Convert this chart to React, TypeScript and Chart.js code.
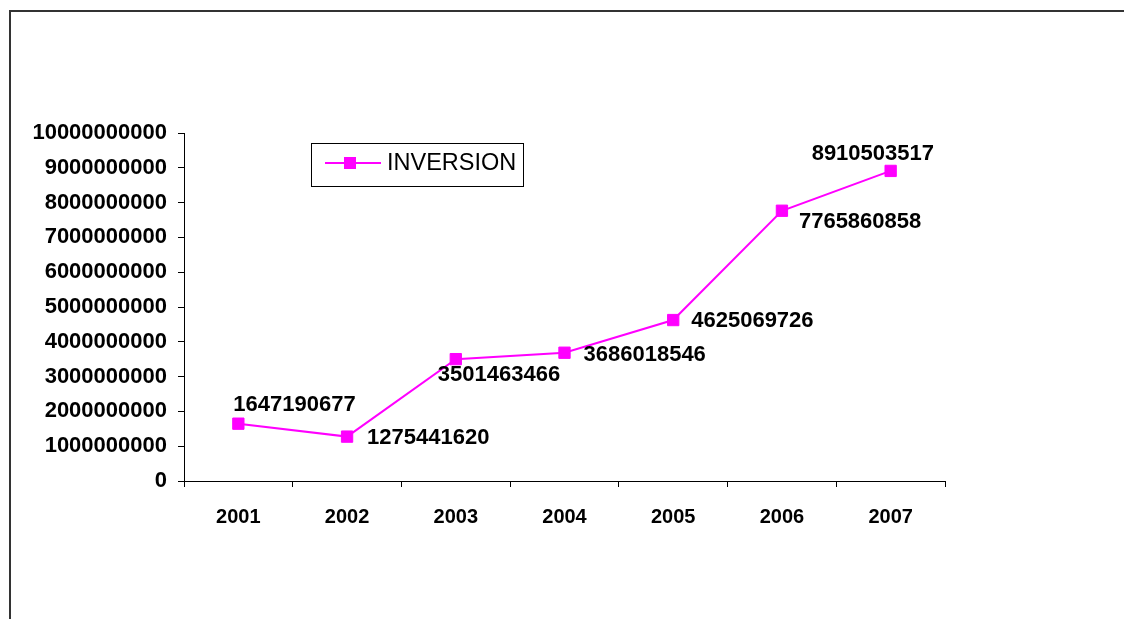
import React, { useEffect, useRef } from "react";
import { Chart, registerables } from "chart.js";

Chart.register(...registerables);

const years = ["2001", "2002", "2003", "2004", "2005", "2006", "2007"];
const inversion = [1647190677, 1275441620, 3501463466, 3686018546, 4625069726, 7765860858, 8910503517];
const seriesName = "INVERSION";
const yMax = 10000000000;
const yStep = 1000000000;
// label placement relative to each point (text left edge dx, text middle dy)
const labelDx = [-5, 20, -18, 19, 18, 17, -79];
const labelDy = [-19, 1, 16, 2, 1, 11, -17];

const MAGENTA = "#FF00FF";
const FONT = "'Liberation Sans', Arial, sans-serif";

const labelsPlugin = {
  id: "pointLabels",
  afterDatasetsDraw(chart: any) {
    const ctx = chart.ctx;
    const meta = chart.getDatasetMeta(0);
    ctx.save();
    ctx.font = `bold 22px ${FONT}`;
    ctx.fillStyle = "#000";
    ctx.textAlign = "left";
    ctx.textBaseline = "middle";
    meta.data.forEach((pt: any, i: number) => {
      ctx.fillText(String(inversion[i]), pt.x + labelDx[i], pt.y + labelDy[i]);
    });
    ctx.restore();
  },
};

const legendPlugin = {
  id: "boxLegend",
  afterDraw(chart: any) {
    const ctx = chart.ctx;
    const x0 = 311, y0 = 143, w = 212, h = 43;
    ctx.save();
    ctx.strokeStyle = "#000";
    ctx.lineWidth = 1;
    ctx.strokeRect(x0 + 0.5, y0 + 0.5, w, h);
    const cy = y0 + 20;
    ctx.strokeStyle = MAGENTA;
    ctx.lineWidth = 2;
    ctx.beginPath();
    ctx.moveTo(325, cy);
    ctx.lineTo(381, cy);
    ctx.stroke();
    ctx.fillStyle = MAGENTA;
    ctx.fillRect(350 - 6, cy - 6, 12, 12);
    ctx.fillStyle = "#000";
    ctx.font = `23.5px ${FONT}`;
    ctx.textAlign = "left";
    ctx.textBaseline = "middle";
    ctx.fillText(seriesName, 387, cy + 1);
    ctx.restore();
  },
};

export default function App() {
  const ref = useRef<HTMLCanvasElement | null>(null);

  useEffect(() => {
    if (!ref.current) return;
    const chart = new Chart(ref.current, {
      type: "line",
      data: {
        labels: years,
        datasets: [
          {
            label: seriesName,
            data: inversion,
            borderColor: MAGENTA,
            backgroundColor: MAGENTA,
            borderWidth: 2,
            pointStyle: "rect",
            pointRadius: 8,
            pointBorderWidth: 1,
            pointBackgroundColor: MAGENTA,
            pointBorderColor: MAGENTA,
            tension: 0,
            fill: false,
          },
        ],
      },
      options: {
        animation: false,
        responsive: false,
        maintainAspectRatio: false,
        layout: { padding: { left: 0, top: 133, right: 179, bottom: 0 } },
        plugins: {
          legend: { display: false },
          tooltip: { enabled: false },
          title: { display: false },
        },
        scales: {
          x: {
            type: "category",
            offset: true,
            grid: {
              offset: true,
              drawOnChartArea: false,
              drawTicks: true,
              tickLength: 6,
              color: "#000",
              lineWidth: 1,
            },
            border: { display: true, color: "#000", width: 1 },
            ticks: {
              color: "#000",
              font: { family: FONT, size: 20, weight: "bold" },
              padding: 18,
              maxRotation: 0,
              autoSkip: false,
            },
            afterFit(scale: any) {
              scale.height = 138;
            },
          },
          y: {
            min: 0,
            max: yMax,
            grid: {
              drawOnChartArea: false,
              drawTicks: true,
              tickLength: 6,
              color: "#000",
              lineWidth: 1,
            },
            border: { display: true, color: "#000", width: 1 },
            ticks: {
              stepSize: yStep,
              color: "#000",
              font: { family: FONT, size: 22, weight: "bold" },
              padding: 11,
              callback: (v: any) => String(v),
            },
            afterFit(scale: any) {
              scale.width = 184;
            },
          },
        },
      },
      plugins: [labelsPlugin, legendPlugin],
    });
    return () => chart.destroy();
  }, []);

  return (
    <div
      style={{
        position: "fixed",
        left: 0,
        top: 0,
        width: 1124,
        height: 619,
        overflow: "hidden",
        background: "#fff",
      }}
    >
      <div
        style={{
          position: "absolute",
          left: 9,
          top: 10,
          width: 1115,
          height: 609,
          borderLeft: "2px solid #333",
          borderTop: "2px solid #333",
          boxSizing: "border-box",
        }}
      />
      <canvas ref={ref} width={1124} height={619} style={{ position: "absolute", left: 0, top: 0, display: "block" }} />
    </div>
  );
}
